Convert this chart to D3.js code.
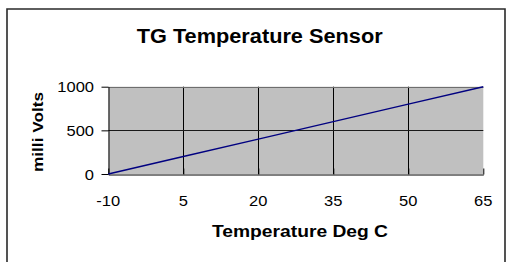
<!DOCTYPE html>
<html>
<head>
<meta charset="utf-8">
<script src="https://cdn.jsdelivr.net/npm/d3@7"></script>
<style>
  html, body { margin: 0; padding: 0; background: #fff; }
  svg { display: block; }
  text { font-family: "Liberation Sans", Arial, sans-serif; fill: #000; }
</style>
</head>
<body>
<svg id="chart" width="506" height="262"></svg>
<script>
// ---- data ----
const temperatures = [-10, 5, 20, 35, 50, 65];
const milliVolts = [0, 200, 400, 600, 800, 1000];
const xTicks = [-10, 5, 20, 35, 50, 65];
const yTicks = [0, 500, 1000];
const chartTitle = "TG Temperature Sensor";
const xTitle = "Temperature Deg C";
const yTitle = "milli Volts";

const W = 506, H = 262;
const svg = d3.select("#chart");

// outer frame
svg.append("path")
  .attr("d", "M7,270 L7,9 L505,9 L505,270")
  .attr("fill", "none").attr("stroke", "#2a2a2a").attr("stroke-width", 1.6);

const plot = { left: 108.3, right: 483.3, top: 86.7, bottom: 174 };
const x = d3.scaleLinear().domain([-10, 65]).range([plot.left, plot.right]);
const y = d3.scaleLinear().domain([0, 1000]).range([plot.bottom, plot.top]);

function stretch(sel, factor) {
  sel.each(function () {
    const len = this.getComputedTextLength();
    d3.select(this).attr("textLength", len * factor).attr("lengthAdjust", "spacingAndGlyphs");
  });
}
function fitTo(sel, width) {
  sel.attr("textLength", width).attr("lengthAdjust", "spacingAndGlyphs");
}

// plot background
svg.append("rect")
  .attr("x", x(-10)).attr("y", y(1000))
  .attr("width", x(65) - x(-10)).attr("height", y(0) - y(1000))
  .attr("fill", "#c0c0c0");

// vertical gridlines
svg.append("g").selectAll("line")
  .data(xTicks.slice(1, -1))
  .join("line")
  .attr("x1", d => Math.round(x(d)) + 0.5).attr("x2", d => Math.round(x(d)) + 0.5)
  .attr("y1", y(1000)).attr("y2", y(0))
  .attr("stroke", "#000").attr("stroke-width", 1);

// horizontal gridlines
svg.append("g").selectAll("line")
  .data(yTicks.slice(1))
  .join("line")
  .attr("x1", x(-10)).attr("x2", x(65))
  .attr("y1", d => Math.round(y(d)) + 0.5).attr("y2", d => Math.round(y(d)) + 0.5)
  .attr("stroke", d => d === 1000 ? "#6e6e6e" : "#1a1a1a").attr("stroke-width", 1.2);

// x axis (ticks inside)
const xAxis = d3.axisBottom(x).tickValues(xTicks).tickSizeInner(-6).tickSizeOuter(0).tickFormat("");
const gx = svg.append("g").attr("transform", `translate(0,${Math.round(y(0)) + 0.5})`).call(xAxis);
gx.selectAll("path,line").attr("stroke", "#000");

// y axis (ticks outside)
const yAxis = d3.axisLeft(y).tickValues(yTicks).tickSizeInner(7).tickSizeOuter(0).tickFormat("");
const gy = svg.append("g").attr("transform", `translate(${Math.round(x(-10)) + 0.5},0)`).call(yAxis);
gy.selectAll("path,line").attr("stroke", "#000");

// x tick labels
svg.append("g").selectAll("text")
  .data(xTicks).join("text")
  .attr("x", d => x(d)).attr("y", 205.5)
  .attr("text-anchor", "middle").attr("font-size", 15)
  .text(d => d)
  .call(stretch, 1.1);

// y tick labels
svg.append("g").selectAll("text")
  .data(yTicks).join("text")
  .attr("x", 94).attr("y", d => y(d) + 5.5)
  .attr("text-anchor", "end").attr("font-size", 15)
  .text(d => d)
  .call(stretch, 1.1);

// data line
const line = d3.line().x((d, i) => x(temperatures[i])).y(d => y(d));
svg.append("path")
  .datum(milliVolts)
  .attr("d", line)
  .attr("fill", "none").attr("stroke", "#000080").attr("stroke-width", 1.4);

// title
svg.append("text")
  .attr("x", 259.7).attr("y", 42.7)
  .attr("text-anchor", "middle").attr("font-size", 19.5).attr("font-weight", "bold")
  .text(chartTitle).call(fitTo, 246);

// x title
svg.append("text")
  .attr("x", 300).attr("y", 237)
  .attr("text-anchor", "middle").attr("font-size", 16).attr("font-weight", "bold")
  .text(xTitle).call(fitTo, 176);

// y title
svg.append("text")
  .attr("transform", `translate(43,132) rotate(-90)`)
  .attr("text-anchor", "middle").attr("font-size", 15).attr("font-weight", "bold")
  .text(yTitle).call(fitTo, 80);
</script>
</body>
</html>
